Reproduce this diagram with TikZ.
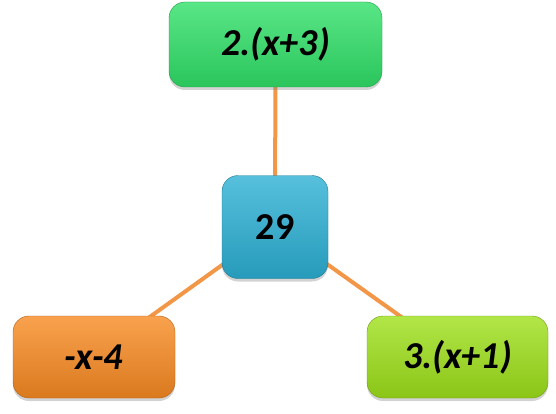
\documentclass[tikz,border=0pt]{standalone}
\usepackage{fontspec}
\setmainfont{Carlito}
\newfontfamily\numfont{Carlito}[UprightFont={* Bold}]
\newfontfamily\termfont{Carlito}[UprightFont={* Bold Italic}]
\usepackage{xcolor}
\definecolor{boxgreen}{RGB}{48,224,104}
\definecolor{boxblue}{RGB}{44,176,212}
\definecolor{boxorange}{RGB}{248,138,34}
\definecolor{boxlime}{RGB}{158,224,26}
\definecolor{linkorange}{RGB}{242,150,72}
\usetikzlibrary{shadows, backgrounds}
\tikzset{
  termbox/.style={rounded corners=16pt, inner sep=0pt, align=center, text=black,
    font=\fontsize{38}{44}\termfont,
    drop shadow={shadow xshift=0pt, shadow yshift=-3pt, opacity=0.35}},
  numbox/.style={termbox, font=\fontsize{38}{44}\numfont},
  link/.style={linkorange, line width=4pt}
}
\begin{document}
\begin{tikzpicture}[x=1pt, y=1pt]
  \useasboundingbox (0,0) rectangle (556,413);
  % boxes
  \node[termbox, top color=boxgreen!80!white, bottom color=boxgreen!88!black, draw=boxgreen!70!black,
    minimum width=213pt, minimum height=85pt] (sum) at (275.5,368.5) {2.(x+3)};
  \node[numbox, top color=boxblue!80!white, bottom color=boxblue!88!black, draw=boxblue!70!black,
    minimum width=106pt, minimum height=103pt] (total) at (275,186) {29};
  \node[termbox, top color=boxorange!80!white, bottom color=boxorange!88!black, draw=boxorange!70!black,
    minimum width=162pt, minimum height=82pt] (neg) at (94,56) {-x-4};
  \node[termbox, top color=boxlime!80!white, bottom color=boxlime!88!black, draw=boxlime!70!black,
    minimum width=181pt, minimum height=82pt] (three) at (457.5,56) {3.(x+1)};
  % connectors behind the boxes
  \begin{scope}[on background layer]
    \draw[link] (total.center) -- (sum.center);
    \draw[link] (total.center) -- (neg.center);
    \draw[link] (total.center) -- (three.center);
  \end{scope}
\end{tikzpicture}
\end{document}
